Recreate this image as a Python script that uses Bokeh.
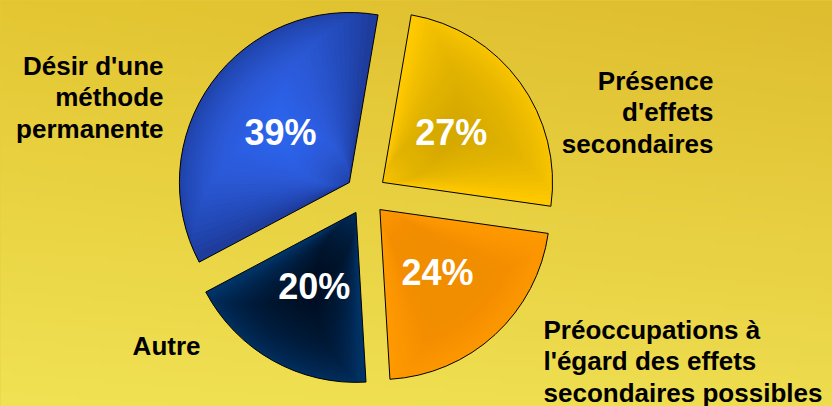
import numpy as np
from bokeh.plotting import figure
from bokeh.models import Range1d, GlobalInlineStyleSheet
from bokeh.core.properties import value
from bokeh.embed import file_html
from bokeh.resources import INLINE

# ---------------- data ----------------
categories = ["Présence d'effets secondaires",
              "Préoccupations à l'égard des effets secondaires possibles",
              "Autre",
              "Désir d'une méthode permanente"]
values = [27, 24, 20, 39]
pct_labels = ["27%", "24%", "20%", "39%"]
label_lines = [["Présence", "d'effets", "secondaires"],
               ["Préoccupations à", "l'égard des effets", "secondaires possibles"],
               ["Autre"],
               ["Désir d'une", "méthode", "permanente"]]
edge_colors = ["#FFC900", "#FF9900", "#003468", "#1E3C9C"]
center_colors = ["#DBA800", "#F79200", "#000A1A", "#3A6CFF"]

# ---------------- layout ----------------
W, H = 832, 406
FONT = "Liberation Sans"
CX, CY = 365.5, H - 194.0
R = 170.0
EXPLODE = 20.5
START = 80.3  # degrees, slices run clockwise from here

# outside label anchors (x, first line y in image px, align)
label_anchor = [(713, 80, "right"), (543, 329, "left"), (200, 345, "right"), (163, 65, "right")]
LINE_STEP = 31.5

p = figure(width=W, height=H, output_backend="svg", toolbar_location=None,
           x_range=Range1d(0, W), y_range=Range1d(0, H),
           min_border=0, outline_line_color=None,
           stylesheets=[GlobalInlineStyleSheet(css="html{min-height:100%;background:linear-gradient(to bottom,#E2C331,#EEDF50);} body{background:transparent;overflow:hidden;}")])
p.axis.visible = False
p.grid.visible = False
p.background_fill_color = "#E8D040"
p.border_fill_color = None

# ---------------- background gradient ----------------
def hex2rgb(h):
    h = h.lstrip("#")
    return np.array([int(h[i:i + 2], 16) for i in (0, 2, 4)], dtype=float)

tl, tr, bl, br = hex2rgb("#E4C632"), hex2rgb("#DEBD2F"), hex2rgb("#F0E254"), hex2rgb("#EEDD4F")
ny, nx = 100, 200
fy = np.linspace(0, 1, ny)[:, None, None]  # 0 bottom -> 1 top
fx = np.linspace(0, 1, nx)[None, :, None]
top = tl * (1 - fx) + tr * fx
bot = bl * (1 - fx) + br * fx
rgb = bot * (1 - fy) + top * fy
img = np.empty((ny, nx), dtype=np.uint32)
view = img.view(dtype=np.uint8).reshape((ny, nx, 4))
view[:, :, 0:3] = np.clip(rgb, 0, 255).astype(np.uint8)
view[:, :, 3] = 255
p.image_rgba(image=[img], x=0, y=0, dw=W, dh=H)

# ---------------- pie ----------------
total = float(sum(values))
a = START
for i, v in enumerate(values):
    span = v / total * 360.0
    a_end = a
    a_start = a - span
    bis = np.radians((a_start + a_end) / 2.0)
    tx = CX + EXPLODE * np.cos(bis)
    ty = CY + EXPLODE * np.sin(bis)
    s_rad, e_rad = np.radians(a_start), np.radians(a_end)
    # base
    p.wedge(x=[tx], y=[ty], radius=R, start_angle=s_rad, end_angle=e_rad,
            fill_color=edge_colors[i], line_color=None)
    # soft radial highlight/shade toward the slice middle
    rh = 0.5 * R
    half = (e_rad - s_rad) / 2.0
    N = 28
    for k in range(N):
        t = 0.95 * (1 - k / N)
        inner = max(0.0, rh - 0.55 * R * t)
        outer = min(R, rh + 0.55 * R * t)
        p.annular_wedge(x=[tx], y=[ty], inner_radius=inner, outer_radius=outer,
                        start_angle=float(bis - half * t), end_angle=float(bis + half * t),
                        fill_color=center_colors[i], fill_alpha=0.07, line_color=None)
    # outline
    p.wedge(x=[tx], y=[ty], radius=R, start_angle=s_rad, end_angle=e_rad,
            fill_color=None, line_color="black", line_width=1)
    # percent label
    lx = tx + 0.5 * R * np.cos(bis)
    ly = ty + 0.5 * R * np.sin(bis)
    p.text(x=[lx], y=[ly], text=[pct_labels[i]], text_color="white",
           text_font=value(FONT), text_font_style="bold", text_font_size="36px",
           text_align="center", text_baseline="middle")
    # category label
    ax, ay, align = label_anchor[i]
    for j, line in enumerate(label_lines[i]):
        p.text(x=[ax], y=[H - (ay + j * LINE_STEP)], text=[line], text_color="black",
               text_font=value(FONT), text_font_style="bold", text_font_size="26px",
               text_align=align, text_baseline="middle")
    a = a_start

open("out.html", "w").write(file_html(p, INLINE))
